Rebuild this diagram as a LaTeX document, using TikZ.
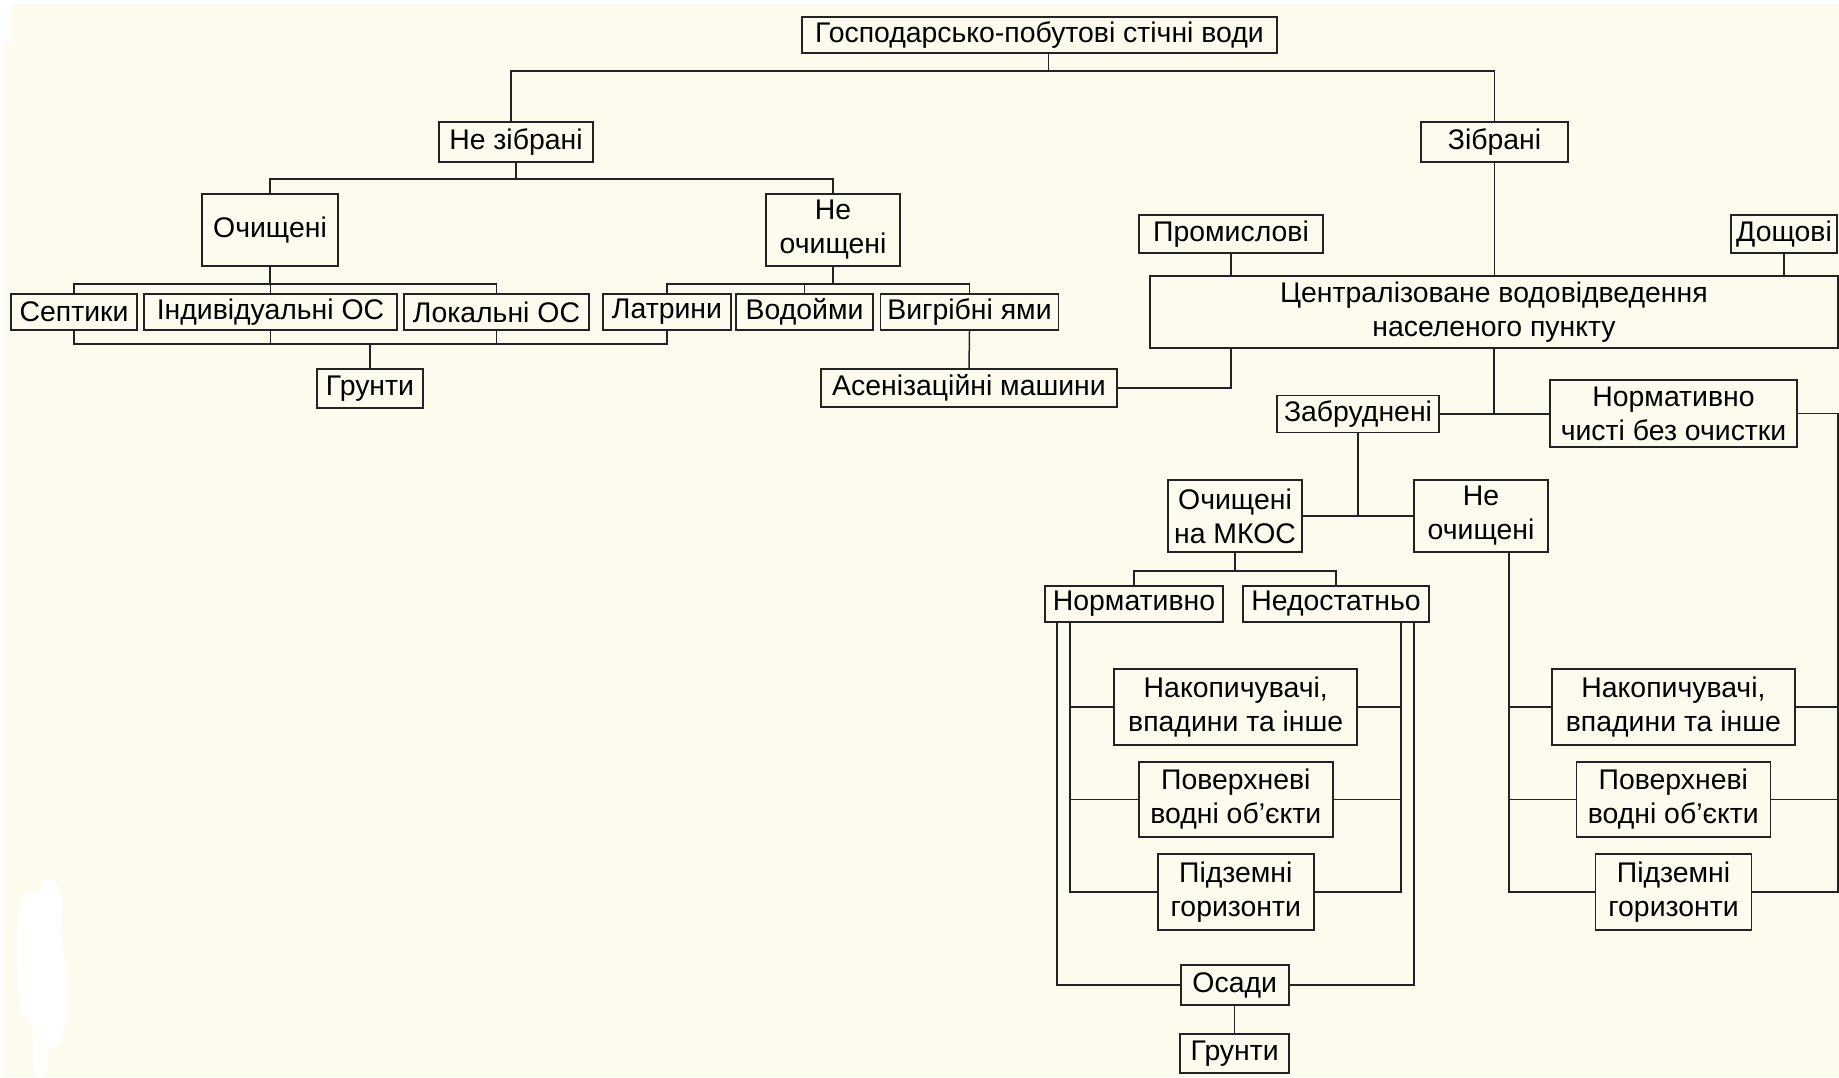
\documentclass[tikz,border=0pt]{standalone}
\usepackage{fontspec}
\setmainfont{Liberation Sans}
\usepackage{tikz}
\usetikzlibrary{positioning, calc}
\definecolor{paper}{RGB}{253,250,238}
\definecolor{linegray}{RGB}{35,35,35}

\begin{document}
\begin{tikzpicture}[
    x=0.5pt, y=-0.5pt, % pixel grid, y pointing down
    font=\fontsize{14.2}{17}\selectfont, % Arial-like labels
    box/.style={draw=linegray, line width=0.8pt, fill=paper, inner sep=0pt, align=center},
    link/.style={draw=linegray, line width=0.75pt}
]

% sheet
\useasboundingbox (0,0) rectangle (1839,1077);
\fill[white] (0,0) rectangle (1839,1077);
\fill[paper] (4,4) rectangle (1839,1077);
\fill[white] (0,0) rectangle (12,43);
\fill[white, rounded corners=4] (42,878) -- (57,878) -- (57,893) -- (63,893) -- (60,927) -- (67,972)
    -- (67,1010) -- (65,1027) -- (60,1047) -- (48,1047) -- (48,1077) -- (33,1077) -- (33,1027)
    -- (20,1010) -- (17,970) -- (17,927) -- (22,893) -- (42,893) -- cycle;

% root
\node[box, minimum width=237.5pt, minimum height=18pt] (top) at (1039.5,35) {Господарсько-побутові стічні води};

% not collected
\node[box, minimum width=77pt, minimum height=20pt] (nezibr) at (516,142) {Не зібрані};
\node[box, minimum width=68pt, minimum height=36pt] (ochyshch) at (270,230) {Очищені};
\node[box, minimum width=67pt, minimum height=36pt] (neochyshch) at (833,230) {Не\\очищені};
\node[box, minimum width=63pt, minimum height=18pt] (septyky) at (74,312) {Септики};
\node[box, minimum width=126.5pt, minimum height=18pt] (indyv) at (270.5,312) {Індивідуальні ОС};
\node[box, minimum width=92.5pt, minimum height=18pt] (lokal) at (496.5,312) {Локальні ОС};
\node[box, minimum width=64pt, minimum height=18pt] (latryny) at (667,312) {Латрини};
\node[box, minimum width=68.5pt, minimum height=18pt] (vodoimy) at (804.5,312) {Водойми};
\node[box, minimum width=89pt, minimum height=18pt] (vygribni) at (969.5,312) {Вигрібні ями};
\node[box, minimum width=53pt, minimum height=19.5pt] (grunty1) at (370,388.5) {Грунти};
\node[box, minimum width=148pt, minimum height=19pt] (asenizats) at (969,388) {Асенізаційні машини};

% collected
\node[box, minimum width=73.5pt, minimum height=20pt] (zibr) at (1494.5,142) {Зібрані};
\node[box, minimum width=92pt, minimum height=19pt] (promysl) at (1231,234) {Промислові};
\node[box, minimum width=53pt, minimum height=19pt] (doshch) at (1784,234) {Дощові};
\node[box, minimum width=344pt, minimum height=36pt] (central) at (1494,312) {Централізоване водовідведення\\населеного пункту};
\node[box, minimum width=81pt, minimum height=18.5pt] (zabrudn) at (1358,414) {Забруднені};
\node[box, minimum width=123.5pt, minimum height=33.5pt] (normchysti) at (1673.5,413.5) {Нормативно\\чисті без очистки};
\node[box, minimum width=67pt, minimum height=36pt] (ochmkos) at (1235,516) {Очищені\\на МКОС};
\node[box, minimum width=67pt, minimum height=36pt] (neoch2) at (1481,516) {Не\\очищені};
\node[box, minimum width=89pt, minimum height=18pt] (normat) at (1134,604) {Нормативно};
\node[box, minimum width=93pt, minimum height=18pt] (nedost) at (1336,604) {Недостатньо};

% receivers
\node[box, minimum width=121.5pt, minimum height=38pt] (nakop1) at (1235.7,707) {Накопичувачі,\\впадини та інше};
\node[box, minimum width=97pt, minimum height=37.5pt] (poverkh1) at (1235.8,799.5) {Поверхневі\\водні об'єкти};
\node[box, minimum width=78pt, minimum height=38pt] (pidzem1) at (1235.8,892) {Підземні\\горизонти};
\node[box, minimum width=54pt, minimum height=20pt] (osady) at (1234.7,985) {Осади};
\node[box, minimum width=54.5pt, minimum height=19.5pt] (grunty2) at (1234.7,1053.5) {Грунти};
\node[box, minimum width=121.5pt, minimum height=38pt] (nakop2) at (1673.4,707) {Накопичувачі,\\впадини та інше};
\node[box, minimum width=97pt, minimum height=37.5pt] (poverkh2) at (1673.3,799.5) {Поверхневі\\водні об'єкти};
\node[box, minimum width=78pt, minimum height=38pt] (pidzem2) at (1673.5,892) {Підземні\\горизонти};

% top level links
\draw[link] ([xshift=4.5pt]top.south) -- ++(0,17) -| ([xshift=-2.5pt]nezibr.north);
\draw[link] ([xshift=4.5pt]top.south) -- ++(0,17) -| (zibr.north);

% not collected links
\draw[link] (nezibr.south) -- ++(0,16) -| (ochyshch.north);
\draw[link] (nezibr.south) -- ++(0,16) -| (neochyshch.north);
\foreach \n in {septyky, indyv, lokal}
    \draw[link] (ochyshch.south) -- ++(0,17) -| (\n.north);
\foreach \n in {latryny, vodoimy, vygribni}
    \draw[link] (neochyshch.south) -- ++(0,17) -| (\n.north);
\coordinate (soilbus) at (370,344);
\draw[link] (septyky.south) |- (soilbus) -| (latryny.south);
\foreach \n in {indyv, lokal}
    \draw[link] (\n.south) -- (\n.south |- soilbus);
\draw[link] (soilbus) -- (grunty1.north);
\draw[link] (vygribni.south) -- (asenizats.north);
\draw[link] (asenizats.east) -| (promysl.south |- central.south);

% collected links
\draw[link] (zibr.south) -- (zibr.south |- central.north);
\draw[link] (promysl.south) -- (promysl.south |- central.north);
\draw[link] (doshch.south) -- (doshch.south |- central.north);
\draw[link] (central.south) -- (central.south |- zabrudn.east);
\draw[link] (zabrudn.east) -- (zabrudn.east -| normchysti.west);
\draw[link] (zabrudn.south) -- (zabrudn.south |- ochmkos.east);
\draw[link] (ochmkos.east) -- (neoch2.west);
\draw[link] (ochmkos.south) -- ++(0,18) -| (normat.north);
\draw[link] (ochmkos.south) -- ++(0,18) -| (nedost.north);

% outlets of treated water
\coordinate (nl1) at ([xshift=6.5pt]normat.south west);
\coordinate (nl2) at ([xshift=13pt]normat.south west);
\coordinate (nr2) at ([xshift=-14.5pt]nedost.south east);
\coordinate (nr1) at ([xshift=-8pt]nedost.south east);
\foreach \n in {nakop1, poverkh1, pidzem1} {
    \draw[link] (nl2) |- (\n.west);
    \draw[link] (nr2) |- (\n.east);
}
\draw[link] (nl1) |- (osady.west);
\draw[link] (nr1) |- (osady.east);
\draw[link] (osady.south) -- (grunty2.north);

% outlets of untreated and clean water
\coordinate (rl) at ([xshift=14pt]neoch2.south);
\foreach \n in {nakop2, poverkh2, pidzem2} {
    \draw[link] (rl) |- (\n.west);
    \draw[link] (normchysti.east) -- ++(40,0) |- (\n.east);
}
\end{tikzpicture}
\end{document}
